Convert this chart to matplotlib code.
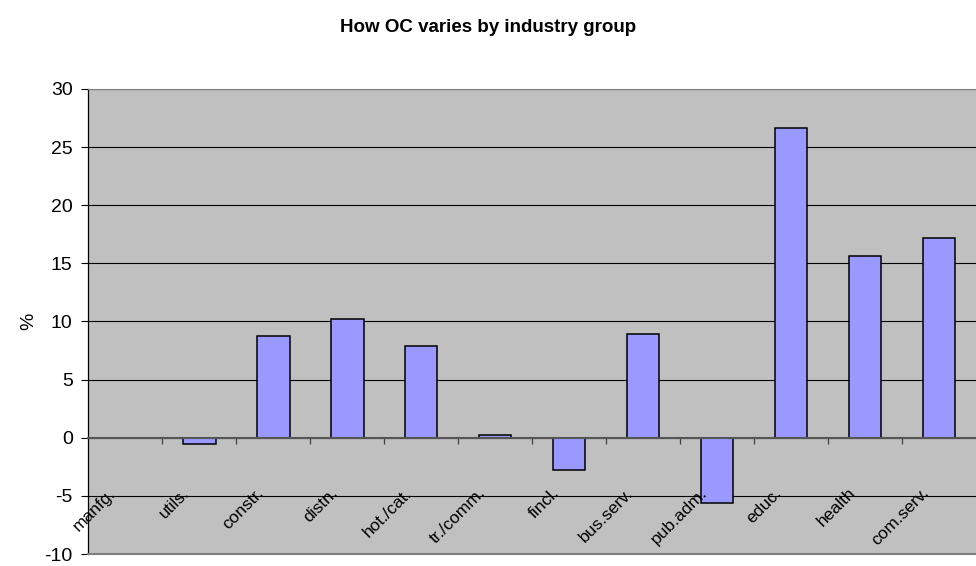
import numpy as np
import matplotlib
matplotlib.use('Agg')
import matplotlib.pyplot as plt
from matplotlib.transforms import ScaledTranslation

plt.rcParams['font.family'] = ['Liberation Sans', 'DejaVu Sans']
plt.rcParams['axes.unicode_minus'] = False

# OC change by industry group (%)
industries = ['manfg.', 'utils.', 'constr.', 'distn.', 'hot./cat.', 'tr./comm.',
              'fincl.', 'bus.serv.', 'pub.adm.', 'educ.', 'health', 'com.serv.']
oc_change = [0.0, -0.5, 8.75, 10.2, 7.85, 0.2, -2.75, 8.9, -5.6, 26.65, 15.65, 17.15]
y_ticks = [-10, -5, 0, 5, 10, 15, 20, 25, 30]

fig = plt.figure(figsize=(9.76, 5.66), dpi=100)
ax = fig.add_axes([0.0905, 0.0212, 0.9095, 0.8216])
ax.set_facecolor('#C0C0C0')

x = np.arange(len(industries))
ax.bar(x, oc_change, width=0.44, color='#9999FF', edgecolor='black',
       linewidth=1.1, zorder=3)

ax.set_xlim(-0.5, len(industries) - 0.5)
ax.set_ylim(-10, 30)
ax.set_yticks(y_ticks)
ax.yaxis.grid(True, color='black', linewidth=0.8)
ax.set_axisbelow(True)
ax.tick_params(axis='y', direction='out', length=4.8, width=0.8, pad=6.5,
               labelsize=14, colors='black')

# category axis sits on the zero line
ax.spines['bottom'].set_position(('data', 0))
ax.spines['bottom'].set_color('#555555')
ax.spines['bottom'].set_linewidth(1.5)
ax.spines['bottom'].set_zorder(4)
ax.spines['right'].set_visible(False)
ax.spines['top'].set_color('#808080')
ax.spines['left'].set_color('black')
ax.spines['left'].set_linewidth(0.9)
ax.axhline(-10, color='#808080', linewidth=1.5, clip_on=False, zorder=4)

ax.set_xticks(x[:-1] + 0.5, minor=True)
ax.tick_params(axis='x', which='minor', direction='out', length=4, width=0.9,
               color='#404040')
ax.set_xticks([])

# rotated category names, drawn on top of the bars
shift = ScaledTranslation(-9 / 100, -56 / 100, fig.dpi_scale_trans)
for xi, name in zip(x, industries):
    ax.text(xi, 0, name, rotation=45, ha='right', va='baseline',
            rotation_mode='anchor', fontsize=12.5,
            transform=ax.transData + shift, zorder=6)

ax.set_ylabel('%', fontsize=14)
ax.yaxis.set_label_coords(-0.058, 0.5)

fig.text(0.5, 0.952, 'How OC varies by industry group', ha='center', va='center',
         fontsize=13.5, fontweight='bold')

fig.savefig('out.png', dpi=100)
